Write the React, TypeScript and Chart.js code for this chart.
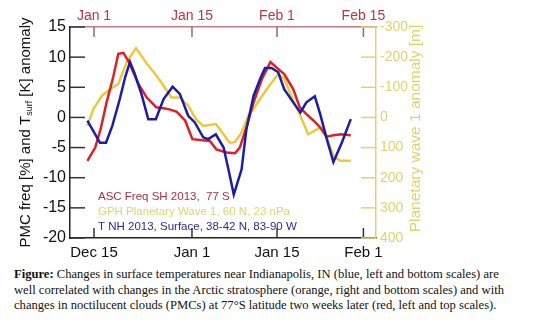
import React, { useEffect, useRef } from "react";
import { Chart, registerables } from "chart.js";

Chart.register(...registerables);

// Positions along the time axis (shared axis units) and values
const redX = [2.9, 4.2, 5.1, 6.1, 7.2, 8.05, 8.9, 9.7, 10.55, 11.4, 12.8, 14.4, 15.8, 16.7, 17.8, 19.2, 20.4, 23.3, 24.4, 26.1, 27.5, 28.3, 29.4, 30.6, 32.0, 33.4, 34.4, 35.7, 37.2, 38.3, 39.4, 40.6, 41.7, 42.8, 43.9, 45.2, 46.8];
const redY = [-7.2, -5.0, -1.95, 2.5, 6.7, 10.55, 10.7, 9.4, 7.5, 5.55, 3.3, 1.67, 1.5, 1.3, 0.93, -0.55, -3.6, -3.9, -5.3, -5.8, -5.95, -5.0, -1.67, 2.5, 6.4, 9.2, 8.3, 7.2, 4.7, 1.67, 0.55, -0.55, -1.67, -3.2, -2.95, -2.8, -2.95];

const blueX = [2.9, 5.0, 6.0, 7.05, 8.3, 9.2, 10.0, 10.8, 11.9, 13.05, 14.3, 15.6, 17.1, 18.3, 19.7, 20.8, 22.2, 23.05, 24.3, 25.6, 26.4, 27.3, 28.6, 29.4, 30.6, 31.7, 32.5, 33.6, 34.7, 35.7, 37.2, 38.4, 39.4, 40.8, 41.7, 42.8, 43.9, 45.3, 46.8];
const blueY = [-0.55, -4.2, -4.2, -1.4, 3.05, 6.7, 9.2, 7.2, 3.9, -0.3, -0.3, 3.05, 5.1, 3.9, 0.27, -0.83, -3.3, -3.6, -2.8, -5.0, -8.6, -12.8, -8.6, -1.95, 3.6, 6.4, 8.2, 8.2, 7.5, 4.7, 2.5, 0.83, 2.5, 3.5, 0.55, -3.6, -7.4, -4.2, -0.28];

const gphX = [2.9, 3.9, 5.3, 6.7, 8.05, 9.45, 11.0, 12.8, 14.2, 15.4, 16.9, 18.3, 19.7, 21.0, 22.2, 24.3, 25.6, 26.6, 27.5, 28.6, 29.7, 31.1, 32.8, 34.7, 35.7, 37.2, 38.4, 39.7, 41.7, 42.9, 43.9, 45.0, 46.8];
const gphY = [28, -28, -72, -94, -111, -184, -230, -178, -144, -111, -66, -66, -39, 6, 28, 22, 56, 84, 82, 50, -5, -44, -94, -144, -128, -56, -5, 56, 33, 72, 128, 144, 144];

const tickPositions = [4, 20.33, 34.5, 48.9];
const bottomLabels = ["Dec 15", "Jan 1", "Jan 15", "Feb 1"];
const topLabels = ["Jan 1", "Jan 15", "Feb 1", "Feb 15"];
const seriesNames = ["ASC Freq SH 2013,  77 S", "GPH Planetary Wave 1, 60 N, 23 nPa", "T NH 2013, Surface, 38-42 N, 83-90 W"];

const SANS = '"Liberation Sans", Arial, Helvetica, sans-serif';
const RED = "#dc2026";
const BLUE = "#1c1ca6";
const GOLD = "#ebc93c";
const PALE = "#e3d26c";
const TOPRED = "#bd3446";

const pts = (xs: number[], ys: number[]) => xs.map((x, i) => ({ x, y: ys[i] }));

const decorPlugin = {
  id: "decor",
  afterDraw(chart: any) {
    const { ctx, chartArea: ca, scales } = chart;
    ctx.save();
    // inward ticks
    ctx.lineWidth = 1.5;
    ctx.strokeStyle = "#333";
    tickPositions.forEach((v) => {
      const px = scales.x.getPixelForValue(v);
      ctx.beginPath();
      ctx.moveTo(px, ca.bottom);
      ctx.lineTo(px, ca.bottom - 10);
      ctx.stroke();
    });
    ctx.strokeStyle = "#9a6470";
    tickPositions.forEach((v) => {
      const px = scales.x2.getPixelForValue(v);
      ctx.beginPath();
      ctx.moveTo(px, ca.top);
      ctx.lineTo(px, ca.top + 10);
      ctx.stroke();
    });
    ctx.strokeStyle = "#333";
    scales.y.ticks.forEach((t: any) => {
      const py = scales.y.getPixelForValue(t.value);
      ctx.beginPath();
      ctx.moveTo(ca.left, py);
      ctx.lineTo(ca.left + 15, py);
      ctx.stroke();
    });
    ctx.strokeStyle = PALE;
    scales.y2.ticks.forEach((t: any) => {
      const py = scales.y2.getPixelForValue(t.value);
      ctx.beginPath();
      ctx.moveTo(ca.right, py);
      ctx.lineTo(ca.right - 15, py);
      ctx.stroke();
    });

    // left axis title with subscript
    const cy = (ca.top + ca.bottom) / 2;
    const parts: [string, number, number][] = [
      ["PMC freq [%] and T", 15, 0],
      ["surf", 9, 4],
      [" [K] anomaly", 15, 0],
    ];
    let total = 0;
    parts.forEach(([t, s]) => {
      ctx.font = `${s}px ${SANS}`;
      total += ctx.measureText(t).width;
    });
    ctx.translate(26, cy);
    ctx.rotate(-Math.PI / 2);
    ctx.fillStyle = "#111";
    ctx.textBaseline = "middle";
    ctx.textAlign = "left";
    let xx = -total / 2;
    parts.forEach(([t, s, off]) => {
      ctx.font = `${s}px ${SANS}`;
      ctx.fillText(t, xx, off);
      xx += ctx.measureText(t).width;
    });
    ctx.restore();

    // right axis title
    ctx.save();
    ctx.translate(416, cy - 4);
    ctx.rotate(-Math.PI / 2);
    ctx.font = `15.5px ${SANS}`;
    ctx.fillStyle = PALE;
    ctx.textAlign = "center";
    ctx.textBaseline = "middle";
    ctx.fillText("Planetary wave 1 anomaly [m]", 0, 0);
    ctx.restore();

    // in-plot legend
    ctx.save();
    ctx.font = `11.5px ${SANS}`;
    ctx.textBaseline = "middle";
    ctx.textAlign = "left";
    const cols = ["#ad2c4a", PALE, "#2a2a96"];
    seriesNames.forEach((n, i) => {
      ctx.fillStyle = cols[i];
      ctx.fillText(n, ca.left + 28, ca.bottom - 41 + i * 15);
    });
    ctx.restore();
  },
};

export default function App() {
  const ref = useRef<HTMLCanvasElement>(null);
  useEffect(() => {
    const chart = new Chart(ref.current!, {
      type: "line",
      data: {
        datasets: [
          { data: pts(blueX, blueY), borderColor: BLUE, xAxisID: "x", yAxisID: "y", order: 1 },
          { data: pts(redX, redY), borderColor: RED, xAxisID: "x2", yAxisID: "y", order: 2 },
          { data: pts(gphX, gphY), borderColor: GOLD, xAxisID: "x", yAxisID: "y2", order: 3 },
        ].map((d) => ({ ...d, borderWidth: 2.5, pointRadius: 0, tension: 0, fill: false })),
      },
      options: {
        animation: false,
        responsive: false,
        devicePixelRatio: 1,
        layout: { padding: 0 },
        plugins: { legend: { display: false }, tooltip: { enabled: false } },
        scales: {
          x: {
            type: "linear",
            position: "bottom",
            min: 0,
            max: 51,
            afterBuildTicks: (s: any) => {
              s.ticks = tickPositions.map((v) => ({ value: v }));
            },
            afterFit: (s: any) => {
              s.height = 24;
            },
            ticks: {
              autoSkip: false,
              maxRotation: 0,
              padding: 6,
              color: "#111",
              font: { size: 15, family: SANS },
              callback: (v: any) => bottomLabels[tickPositions.indexOf(Number(v))] ?? "",
            },
            grid: { drawOnChartArea: false, drawTicks: false },
            border: { color: "#222", width: 1.5 },
          },
          x2: {
            type: "linear",
            position: "top",
            min: 0,
            max: 51,
            afterBuildTicks: (s: any) => {
              s.ticks = tickPositions.map((v) => ({ value: v }));
            },
            afterFit: (s: any) => {
              s.height = 27;
            },
            ticks: {
              autoSkip: false,
              maxRotation: 0,
              padding: 2,
              color: TOPRED,
              font: { size: 14, family: SANS },
              callback: (v: any) => topLabels[tickPositions.indexOf(Number(v))] ?? "",
            },
            grid: { drawOnChartArea: false, drawTicks: false },
            border: { color: "#c47a86", width: 1.5 },
          },
          y: {
            type: "linear",
            position: "left",
            min: -20,
            max: 15,
            afterFit: (s: any) => {
              s.width = 70;
            },
            ticks: { stepSize: 5, padding: 4, color: "#111", font: { size: 16, family: SANS } },
            grid: { drawOnChartArea: false, drawTicks: false },
            border: { color: "#222", width: 1.5 },
          },
          y2: {
            type: "linear",
            position: "right",
            min: -300,
            max: 400,
            reverse: true,
            afterFit: (s: any) => {
              s.width = 164;
            },
            ticks: { stepSize: 100, padding: 4, color: PALE, font: { size: 14, family: SANS } },
            grid: { drawOnChartArea: false, drawTicks: false },
            border: { color: PALE, width: 1.5 },
          },
        },
      },
      plugins: [decorPlugin],
    } as any);
    return () => chart.destroy();
  }, []);

  return (
    <div style={{ position: "absolute", left: 0, top: 0, width: 540, height: 332, background: "#fff" }}>
      <canvas ref={ref} width={540} height={262} style={{ display: "block", width: 540, height: 262 }} />
      <div
        style={{
          position: "absolute",
          left: 14,
          top: 267,
          fontFamily: '"Liberation Serif", "Times New Roman", serif',
          fontSize: 12.6,
          lineHeight: "15.5px",
          color: "#111",
          whiteSpace: "nowrap",
        }}
      >
        <b>Figure:</b> Changes in surface temperatures near Indianapolis, IN (blue, left and bottom scales) are
        <br />
        well correlated with changes in the Arctic stratosphere (orange, right and bottom scales) and with
        <br />
        changes in noctilucent clouds (PMCs) at 77°S latitude two weeks later (red, left and top scales).
      </div>
    </div>
  );
}
